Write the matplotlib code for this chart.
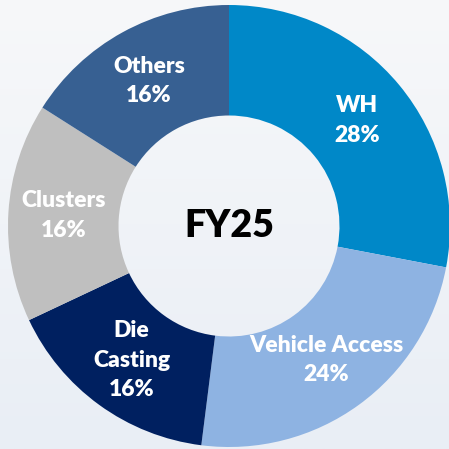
import numpy as np
import matplotlib
matplotlib.use('Agg')
import matplotlib.pyplot as plt

segments = ['WH', 'Vehicle Access', 'Die\nCasting', 'Clusters', 'Others']
shares = [28, 24, 16, 16, 16]
seg_colors = ['#0088c8', '#8eb3e2', '#002060', '#bfbfbf', '#376092']
center_label = 'FY25'

plt.rcParams['font.family'] = ['Lato', 'DejaVu Sans']

fig = plt.figure(figsize=(4.49, 4.49), dpi=100)
fig.patch.set_facecolor('#f3f6fa')
ax = fig.add_axes([0, 0, 1, 1])
ax.set_facecolor('#f3f6fa')

# soft vertical gradient behind the ring
grad = np.linspace(0, 1, 256).reshape(-1, 1)
ax.imshow(grad, extent=[-1.04, 1.0, -1.01, 1.03], aspect='auto',
          cmap=matplotlib.colors.LinearSegmentedColormap.from_list('bg', ['#f7f8fa', '#e9eef5']),
          origin='upper', zorder=0)

wedges, _ = ax.pie(shares, colors=seg_colors, startangle=90, counterclock=False,
                   radius=1.0, wedgeprops=dict(width=0.5, linewidth=0))
for w in wedges:
    w.set_zorder(2)

for w, name, val in zip(wedges, segments, shares):
    mid = np.deg2rad((w.theta1 + w.theta2) / 2)
    r = 0.75
    ax.text(r * np.cos(mid), r * np.sin(mid), f'{name}\n{val}%', ha='center', va='center',
            color='white', fontsize=16.5, fontweight='heavy', linespacing=1.5, zorder=3)

ax.text(0, 0, center_label, ha='center', va='center', fontsize=27, fontweight='heavy',
        color='black', zorder=3)

ax.set_xlim(-229 / 221, 220 / 221)
ax.set_ylim(-223 / 221, 226 / 221)
ax.set_aspect('auto')
ax.axis('off')

fig.savefig('out.png', dpi=100, facecolor=fig.get_facecolor())
